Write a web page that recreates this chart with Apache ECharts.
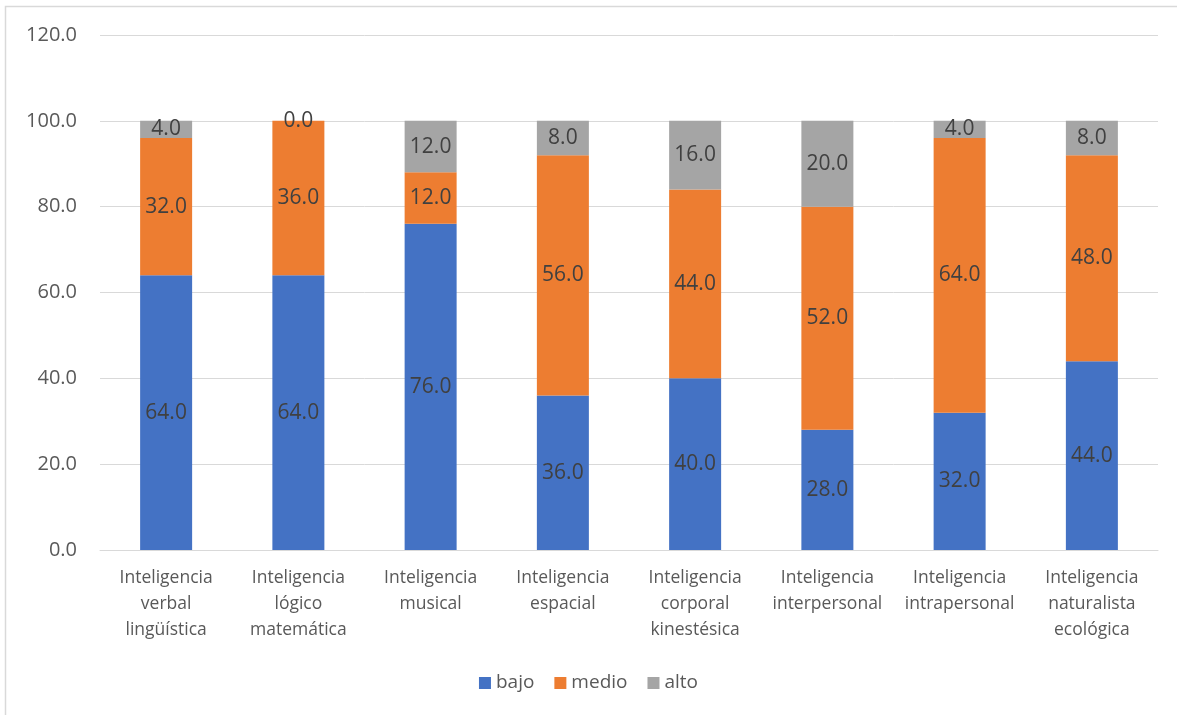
<!DOCTYPE html>
<html>
<head>
<meta charset="utf-8">
<script src="https://cdn.jsdelivr.net/npm/echarts@6/dist/echarts.min.js"></script>
<style>
  html, body { margin: 0; padding: 0; background: #fff; }
  #chart { width: 1177px; height: 715px; }
</style>
</head>
<body>
<div id="chart"></div>
<script>
// Categories of intelligence (x axis)
const categories = [
  'Inteligencia\nverbal\nlingüística',
  'Inteligencia\nlógico\nmatemática',
  'Inteligencia\nmusical',
  'Inteligencia\nespacial',
  'Inteligencia\ncorporal\nkinestésica',
  'Inteligencia\ninterpersonal',
  'Inteligencia\nintrapersonal',
  'Inteligencia\nnaturalista\necológica'
];

// Percentages per level
const bajo  = [64, 64, 76, 36, 40, 28, 32, 44];
const medio = [32, 36, 12, 56, 44, 52, 64, 48];
const alto  = [4, 0, 12, 8, 16, 20, 4, 8];

const seriesNames = ['bajo', 'medio', 'alto'];
const seriesColors = ['#4472C4', '#ED7D31', '#A5A5A5'];
const seriesData = [bajo, medio, alto];

const fontFamily = '"Open Sans", "Noto Sans", sans-serif';

const chart = echarts.init(document.getElementById('chart'), null, { renderer: 'canvas' });

chart.setOption({
  animation: false,
  backgroundColor: '#ffffff',
  textStyle: { fontFamily: fontFamily },
  graphic: [{
    type: 'rect',
    silent: true,
    shape: { x: 5.5, y: 6.5, width: 1300, height: 800 },
    style: { fill: 'none', stroke: '#d9d9d9', lineWidth: 1.5 }
  }],
  grid: { left: 100, right: 19, top: 35, bottom: 165, containLabel: false },
  legend: {
    top: 666,
    left: 'center',
    itemWidth: 12,
    itemHeight: 12,
    itemGap: 20,
    icon: 'rect',
    textStyle: { color: '#595959', fontSize: 19, lineHeight: 24, fontFamily: fontFamily },
    data: seriesNames
  },
  xAxis: {
    type: 'category',
    data: categories,
    axisLine: { lineStyle: { color: '#d9d9d9', width: 1 } },
    axisTick: { show: false },
    axisLabel: {
      color: '#595959',
      fontSize: 17.5,
      lineHeight: 26,
      margin: 15,
      interval: 0,
      fontFamily: fontFamily
    }
  },
  yAxis: {
    type: 'value',
    min: 0,
    max: 120,
    interval: 20,
    axisLine: { show: false },
    axisTick: { show: false },
    splitLine: { lineStyle: { color: '#d9d9d9', width: 1 } },
    axisLabel: {
      color: '#595959',
      fontSize: 20,
      margin: 23,
      fontFamily: fontFamily,
      formatter: v => v.toFixed(1)
    }
  },
  series: seriesData.map((d, i) => ({
    name: seriesNames[i],
    type: 'bar',
    stack: 'total',
    barWidth: 52,
    data: d,
    itemStyle: { color: seriesColors[i] },
    label: {
      show: true,
      position: 'inside',
      color: '#404040',
      fontSize: 21,
      fontFamily: fontFamily,
      formatter: p => Number(p.value).toFixed(1)
    }
  }))
});
</script>
</body>
</html>
